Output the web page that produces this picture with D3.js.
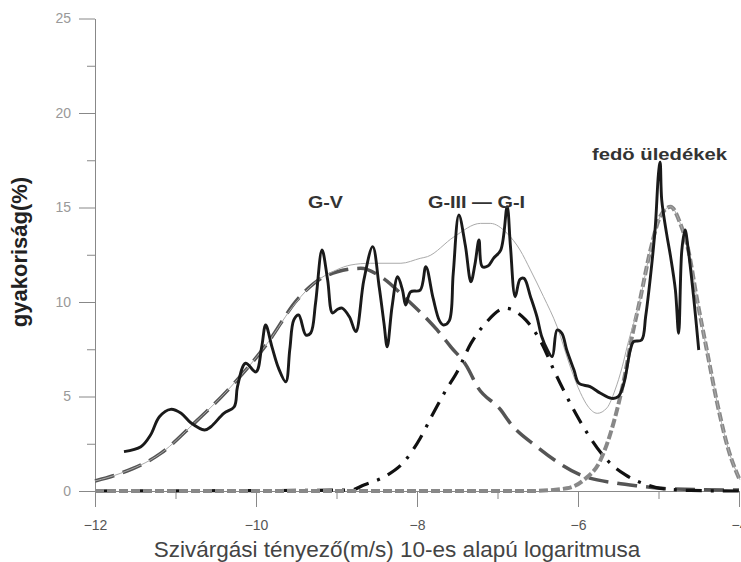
<!DOCTYPE html>
<html>
<head>
<meta charset="utf-8">
<script src="https://cdn.jsdelivr.net/npm/d3@7"></script>
<style>
	body { margin: 0; background: #fff; }
	svg { display: block; font-family: "Liberation Sans", Arial, sans-serif; }
</style>
</head>
<body>
<main></main>
<script>
// measured frequency curve (log10 k, %)
const obsX = [-11.64,-11.43,-11.31,-11.20,-11.06,-10.93,-10.81,-10.64,-10.56,-10.40,-10.27,-10.23,-10.13,-10.00,-9.93,-9.88,
	-9.80,-9.72,-9.63,-9.58,-9.53,-9.47,-9.38,-9.32,-9.26,-9.18,-9.11,-9.05,-8.99,-8.93,-8.84,-8.76,-8.66,-8.55,-8.47,-8.41,
	-8.37,-8.31,-8.24,-8.18,-8.14,-8.08,-7.96,-7.89,-7.80,-7.72,-7.67,-7.60,-7.55,-7.48,-7.40,-7.33,-7.28,-7.23,-7.19,-7.12,
	-7.05,-6.96,-6.88,-6.84,-6.78,-6.72,-6.67,-6.59,-6.51,-6.45,-6.38,-6.32,-6.26,-6.20,-6.14,-6.05,-5.99,-5.85,-5.72,-5.58,
	-5.50,-5.43,-5.35,-5.31,-5.21,-5.16,-5.10,-5.04,-5.00,-4.98,-4.96,-4.90,-4.85,-4.79,-4.75,-4.71,-4.67,-4.63,-4.56,-4.50];
const obsY = [2.08,2.34,2.96,3.93,4.32,4.11,3.61,3.23,3.40,4.11,4.46,5.52,6.76,6.30,7.60,8.78,
	7.60,6.50,5.78,7.50,9.05,9.31,8.25,8.36,9.95,12.75,11.16,9.42,9.60,9.68,9.22,8.43,11.16,12.93,10.81,8.87,
	7.63,9.75,11.34,10.63,9.84,10.54,10.63,11.87,10.20,9.00,8.78,9.00,11.50,14.60,13.00,11.07,12.00,13.28,11.87,11.90,
	12.31,12.75,15.04,13.00,10.28,11.20,11.25,10.28,9.22,8.16,7.46,7.11,8.52,8.34,7.46,6.40,5.70,5.52,5.17,4.90,
	4.99,5.70,7.46,7.90,7.99,9.22,11.34,13.98,16.81,17.40,15.40,13.63,12.40,10.63,8.34,12.75,13.81,12.75,10.11,7.46];

// fitted sum (thin grey)
const sumX = [-12,-11.68,-11.18,-10.77,-10.35,-9.86,-9.50,-9.28,-9.00,-8.82,-8.58,-8.20,-7.96,-7.87,-7.54,-7.21,-7.09,
	-6.88,-6.72,-6.59,-6.43,-6.26,-6.09,-5.97,-5.88,-5.76,-5.64,-5.54,-5.45,-5.39,-5.23,-5.10,-4.98,-4.85,-4.73,-4.63,
	-4.52,-4.40,-4.27,-4.13,-3.99];
const sumY = [0.53,0.94,2.00,3.58,5.34,7.81,10.00,10.99,11.70,11.96,12.05,12.05,12.31,12.40,13.45,14.16,14.16,
	13.63,12.75,11.69,10.30,8.70,6.50,5.20,4.50,4.11,4.40,5.34,6.58,7.63,10.11,12.75,14.51,15.04,14.16,12.75,
	10.11,7.46,4.64,2.17,0.60];

// G-V component (long dash)
const gvX = [-12,-11.68,-11.18,-10.77,-10.35,-9.86,-9.49,-9.28,-8.99,-8.70,-8.45,-8.12,-7.75,-7.58,-7.38,-7.25,-6.96,
	-6.84,-6.51,-5.97,-5.52,-5.23,-4.80,-4.00];
const gvY = [0.53,0.94,2.00,3.58,5.34,7.81,10.11,10.99,11.60,11.78,11.34,10.11,8.52,7.63,6.58,5.52,4.29,
	3.58,2.34,0.85,0.41,0.26,0.10,0.05];

// G-III - G-I component (dash-dot)
const g13X = [-12,-8.82,-8.66,-8.39,-8.16,-7.96,-7.81,-7.64,-7.50,-7.33,-7.15,-6.90,-6.65,-6.45,-6.30,-6.18,-6.03,
	-5.87,-5.64,-5.41,-5.14,-4.98,-4.60,-4.00];
const g13Y = [0,0.05,0.32,0.79,1.55,2.79,4.02,5.34,6.31,7.81,8.87,9.67,9.05,7.81,6.40,5.34,4.11,
	2.96,1.64,0.85,0.32,0.14,0.03,0];

// fedő üledékek component (short dash)
const fedX = [-12,-6.60,-6.14,-5.93,-5.72,-5.56,-5.43,-5.33,-5.23,-5.10,-4.98,-4.85,-4.73,-4.63,-4.52,-4.40,-4.27,-4.13,-3.99];
const fedY = [0,0,0.14,0.58,1.64,3.58,5.87,8.16,10.11,12.75,14.51,15.04,14.16,12.75,10.11,7.46,4.64,2.17,0.58];

const xTicks = [-12,-10,-8,-6,-4];
const xMinor = [-11,-9,-7,-5];
const yTicks = [0,5,10,15,20,25];
const yMinor = [2.5,7.5,12.5,17.5,22.5];

const w = 741, h = 562;

const x = d3.scaleLinear().domain([-12,-4]).range([95,739]);
const y = d3.scaleLinear().domain([0,25]).range([491,18.5]);

const svg = d3.select("main").append("svg")
	.attr("width", w)
	.attr("height", h)
	.style("background", "#fff");

// axes
const yAxis = d3.axisLeft(y).tickValues(yTicks).tickSize(16).tickSizeOuter(0).tickPadding(8);
const gy = svg.append("g").attr("transform", "translate(95,0)").call(yAxis);
gy.selectAll("path,line").attr("stroke", "#888");
gy.selectAll("text").attr("fill", "#999").style("font-size", "14px");
svg.append("g").attr("transform", "translate(95,0)")
	.call(d3.axisLeft(y).tickValues(yMinor).tickSize(8).tickFormat(""))
	.call(g => g.select(".domain").remove())
	.selectAll("line").attr("stroke", "#888");

const xAxis = d3.axisBottom(x).tickValues(xTicks).tickSize(16).tickSizeOuter(0).tickPadding(13).tickFormat(d3.format("d"));
const gx = svg.append("g").attr("transform", "translate(0,491)").call(xAxis);
gx.selectAll("path,line").attr("stroke", "#888");
gx.selectAll("text").attr("fill", "#555").style("font-size", "14px");
svg.append("g").attr("transform", "translate(0,491)")
	.call(d3.axisBottom(x).tickValues(xMinor).tickSize(8).tickFormat(""))
	.call(g => g.select(".domain").remove())
	.selectAll("line").attr("stroke", "#888");

// curves
const mk = (xs, ys) => xs.map((v,i) => [v, ys[i]]);
const smooth = d3.line().x(d => x(d[0])).y(d => y(d[1])).curve(d3.curveMonotoneX);
const rough = d3.line().x(d => x(d[0])).y(d => y(d[1])).curve(d3.curveCatmullRom.alpha(0.5));

svg.append("path").attr("d", smooth(mk(gvX,gvY)))
	.attr("fill","none").attr("stroke","#555").attr("stroke-width",3.5).attr("stroke-dasharray","20,9");
svg.append("path").attr("d", smooth(mk(g13X,g13Y)))
	.attr("fill","none").attr("stroke","#111").attr("stroke-width",3.2).attr("stroke-dasharray","16,9,3,9");
svg.append("path").attr("d", smooth(mk(fedX,fedY)))
	.attr("fill","none").attr("stroke","#888").attr("stroke-width",4).attr("stroke-dasharray","9,3");
svg.append("path").attr("d", smooth(mk(sumX,sumY)))
	.attr("fill","none").attr("stroke","#aaa").attr("stroke-width",1);
svg.append("path").attr("d", rough(mk(obsX,obsY)))
	.attr("fill","none").attr("stroke","#1a1a1a").attr("stroke-width",2.9).attr("stroke-linejoin","round");

// labels
svg.append("text")
	.attr("transform","translate(27,252) rotate(-90)")
	.attr("text-anchor","middle")
	.style("font-size","22px").style("font-weight","bold").attr("fill","#222")
	.text("gyakoriság(%)");

svg.append("text")
	.attr("x", 397).attr("y", 557)
	.attr("text-anchor","middle")
	.style("font-size","22.5px").attr("fill","#444")
	.text("Szivárgási tényező(m/s) 10-es alapú logaritmusa");

svg.append("text").attr("x",308).attr("y",208)
	.attr("textLength",35).attr("lengthAdjust","spacingAndGlyphs")
	.style("font-size","17px").style("font-weight","bold").attr("fill","#333")
	.text("G-V");
svg.append("text").attr("x",428).attr("y",208)
	.attr("textLength",97).attr("lengthAdjust","spacingAndGlyphs")
	.style("font-size","17px").style("font-weight","bold").attr("fill","#333")
	.text("G-III — G-I");
svg.append("text").attr("x",592).attr("y",160)
	.attr("textLength",135).attr("lengthAdjust","spacingAndGlyphs")
	.style("font-size","17px").style("font-weight","bold").attr("fill","#333")
	.text("fedö üledékek");
</script>
</body>
</html>
